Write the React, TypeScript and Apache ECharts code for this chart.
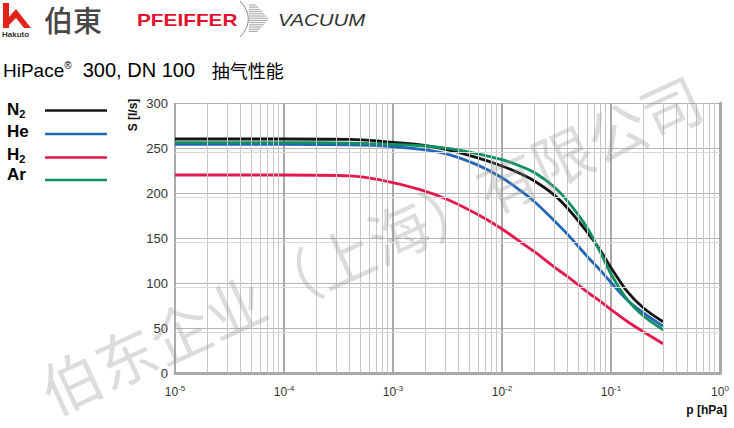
import React, { useEffect, useRef } from "react";
import * as echarts from "echarts";

// pressure grid [hPa] and pumping speed S [l/s] per gas
const pressures = [1e-5, 1e-4, 4e-4, 7.6e-4, 1.8e-3, 3.2e-3, 6e-3, 1e-2, 1.5e-2, 2e-2, 3e-2, 4e-2, 6e-2, 8e-2, 1e-1, 1.4e-1, 2e-1, 3e-1];
const n2 = [260, 260, 259.5, 257.5, 253.5, 248, 239, 230, 221, 213, 198, 183, 157, 136, 117, 91, 72, 57];
const he = [254, 254, 253.5, 252.5, 248.5, 243, 231, 217, 202, 190, 169.5, 154, 130, 114, 100.5, 81.5, 66.5, 52];
const h2 = [220, 220, 219, 214.5, 203.5, 192.5, 176, 160, 145, 134.5, 118, 107, 90.5, 79.5, 70.5, 57.5, 45.5, 32.5];
const ar = [256, 256, 255.5, 254.5, 252.5, 249.5, 243.5, 237, 229.5, 222.5, 207, 191, 162, 134, 110, 82, 63, 48];

const seriesNames = ["N2", "He", "H2", "Ar"];
const legendMain = ["N", "He", "H", "Ar"];
const legendSub = ["2", "", "2", ""];
const colors = ["#141414", "#2266b6", "#e6174b", "#0f8f60"];

// x axis: decade exponents of p [hPa]
const xMinExp = -5;
const xMaxExp = 0;
const minorMultipliers = [2, 3, 4, 5, 6, 7, 8, 9];
const decadeExps = [-5, -4, -3, -2, -1];
const hMinor = [45, 95, 145, 195, 245];

const FONT = "Arial, 'Liberation Sans', sans-serif";
const CJK = "'Noto Sans CJK SC', 'Noto Sans CJK JP', sans-serif";

export default function App() {
  const ref = useRef<HTMLDivElement>(null);
  useEffect(() => {
    document.body.style.margin = "0";
    if (!ref.current) return;
    const chart = echarts.init(ref.current, undefined, { renderer: "svg" });
    const dataSets = [n2, he, h2, ar];
    const minorLines: any[] = [];
    decadeExps.forEach((e) => minorMultipliers.forEach((m) => minorLines.push({ xAxis: e + Math.log10(m) })));
    hMinor.forEach((v) => minorLines.push({ yAxis: v, lineStyle: { color: "#d9d9d9", width: 1, type: "solid" } }));

    const swoosh: any[] = [];
    for (let y = 5; y <= 33; y += 2.2) {
      const len = 20 - Math.abs(y - 19) * 0.9;
      swoosh.push({
        type: "line",
        shape: { x1: 249, y1: y, x2: 249 + len, y2: y },
        style: { stroke: "#8a8a8a", lineWidth: 0.8 },
      });
    }

    // legend drawn as graphic: label + line swatch per series
    const legendRowsText = [109, 131, 154, 174];
    const legendRowsLine = [110.5, 134, 157.5, 180];
    const legendItems: any[] = [];
    seriesNames.forEach((name, i) => {
      legendItems.push({
        type: "text",
        x: 7,
        y: legendRowsText[i],
        style: {
          text: legendSub[i] ? `{b|${legendMain[i]}}{s|${legendSub[i]}}` : `{b|${legendMain[i]}}`,
          verticalAlign: "middle",
          rich: {
            b: { fontSize: 17, fontWeight: "bold", color: "#111", fontFamily: FONT },
            s: { fontSize: 11, fontWeight: "bold", color: "#111", fontFamily: FONT, padding: [9, 0, 0, 0] },
          },
        },
      });
      legendItems.push({
        type: "line",
        shape: { x1: 45, y1: legendRowsLine[i], x2: 107, y2: legendRowsLine[i] },
        style: { stroke: colors[i], lineWidth: 2.5 },
      });
    });

    chart.setOption({
      animation: false,
      backgroundColor: "#ffffff",
      color: colors,
      grid: { left: 175, right: 14, top: 103, bottom: 55, containLabel: false },
      xAxis: {
        type: "value",
        min: xMinExp,
        max: xMaxExp,
        interval: 1,
        axisLine: { show: true, onZero: false, lineStyle: { color: "#a9a9a9", width: 3 } },
        axisTick: { show: false },
        splitLine: { show: true, lineStyle: { color: "#a9a9a9", width: 2 } },
        axisLabel: {
          margin: 11,
          formatter: (v: number) => `{b|10}{s|${v}}`,
          rich: {
            b: { fontSize: 12, color: "#333", fontFamily: FONT },
            s: { fontSize: 8, color: "#333", fontFamily: FONT, padding: [0, 0, 7, 0] },
          },
        },
      },
      yAxis: {
        type: "value",
        min: 0,
        max: 300,
        interval: 50,
        axisLine: { show: true, lineStyle: { color: "#a9a9a9", width: 3 } },
        axisTick: { show: false },
        splitLine: { show: true, lineStyle: { color: "#b5b5b5", width: 1 } },
        axisLabel: { fontSize: 13, color: "#333", fontFamily: FONT, margin: 7 },
      },
      series: [
        {
          type: "line",
          name: "grid-minor",
          data: [],
          silent: true,
          z: 1,
          markLine: {
            silent: true,
            symbol: "none",
            label: { show: false },
            lineStyle: { color: "#c6c6c6", width: 1, type: "solid" },
            data: minorLines,
          },
        },
        ...seriesNames.map((name, i) => ({
          type: "line",
          name,
          data: pressures.map((p, j) => [Math.log10(p), dataSets[i][j]]),
          showSymbol: false,
          smooth: 0.3,
          lineStyle: { width: 2.8, color: colors[i] },
          itemStyle: { color: colors[i] },
          z: 3,
        })),
      ],
      graphic: [
        // Hakuto logo
        {
          type: "polygon",
          shape: {
            points: [
              [3, 3], [9, 3], [9, 17], [16, 9], [31, 28], [24, 28], [16, 18], [9, 25], [9, 28], [3, 28],
            ],
          },
          style: { fill: "#e2231a" },
        },
        {
          type: "text",
          x: 2,
          y: 30,
          style: { text: "Hakuto", font: `bold 8px ${FONT}`, fill: "#333" },
        },
        {
          type: "text",
          x: 44,
          y: 19,
          style: { text: "伯東", font: `500 29px 'Noto Sans CJK JP', sans-serif`, fill: "#474747", verticalAlign: "middle" },
        },
        {
          type: "text",
          x: 137,
          y: 20,
          scaleX: 1.3,
          style: { text: "PFEIFFER", font: `bold 16px ${FONT}`, fill: "#e3102e", verticalAlign: "middle" },
        },
        {
          type: "bezierCurve",
          shape: { x1: 240, y1: 1, cpx1: 251, cpy1: 12, cpx2: 251, cpy2: 26, x2: 240, y2: 37 },
          style: { stroke: "#8a8a8a", lineWidth: 1, fill: "none" },
        },
        ...swoosh,
        {
          type: "text",
          x: 278,
          y: 20,
          scaleX: 1.2,
          style: { text: "VACUUM", font: `italic 17px ${FONT}`, fill: "#333", verticalAlign: "middle" },
        },
        // title
        {
          type: "text",
          x: 3,
          y: 70,
          style: {
            text: "{h|HiPace}{r|®}{a|  300, DN 100   }{c|抽气性能}",
            verticalAlign: "middle",
            rich: {
              h: { fontSize: 19, fontFamily: FONT, color: "#222" },
              r: { fontSize: 10, fontFamily: FONT, color: "#222", padding: [0, 0, 9, 0] },
              a: { fontSize: 20, fontFamily: FONT, color: "#222" },
              c: { fontSize: 18, fontFamily: CJK, color: "#222" },
            },
          },
        },
        ...legendItems,
        // axis names
        {
          type: "text",
          x: 133,
          y: 115,
          rotation: Math.PI / 2,
          style: { text: "S [l/s]", font: `bold 12px ${FONT}`, fill: "#111", align: "center", verticalAlign: "middle" },
        },
        {
          type: "text",
          x: 727,
          y: 410,
          style: { text: "p [hPa]", font: `bold 12px ${FONT}`, fill: "#111", align: "right", verticalAlign: "middle" },
        },
        // watermark
        {
          type: "text",
          x: 370,
          y: 242,
          rotation: 0.43,
          z: 100,
          silent: true,
          style: {
            text: "伯东企业（上海）有限公司",
            font: `60px ${CJK}`,
            fill: "rgba(150,150,150,0.33)",
            align: "center",
            verticalAlign: "middle",
          },
        },
      ],
    });
    return () => chart.dispose();
  }, []);
  return <div ref={ref} style={{ width: 734, height: 428 }} />;
}
